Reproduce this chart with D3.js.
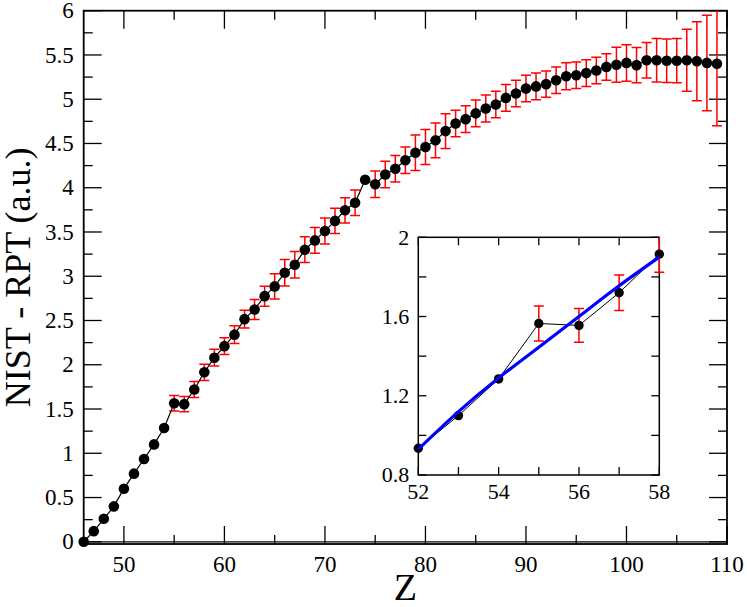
<!DOCTYPE html>
<html><head><meta charset="utf-8"><script src="https://cdn.jsdelivr.net/npm/d3@7"></script></head>
<body style="margin:0">
<div id="fig"></div>
<script>
// atomic number Z
const zValues = [46, 47, 48, 49, 50, 51, 52, 53, 54, 55, 56, 57, 58, 59, 60, 61, 62, 63, 64, 65,
  66, 67, 68, 69, 70, 71, 72, 73, 74, 75, 76, 77, 78, 79, 80, 81, 82, 83, 84, 85,
  86, 87, 88, 89, 90, 91, 92, 93, 94, 95, 96, 97, 98, 99, 100, 101, 102, 103, 104, 105,
  106, 107, 108, 109];

// NIST - RPT difference (a.u.)
const diffValues = [0, 0.12, 0.26, 0.40, 0.60, 0.77, 0.935, 1.10, 1.285, 1.565, 1.555, 1.72, 1.915, 2.08, 2.21, 2.34, 2.515, 2.625, 2.775, 2.885,
  3.04, 3.13, 3.30, 3.405, 3.51, 3.625, 3.745, 3.83, 4.09, 4.04, 4.15, 4.215, 4.31, 4.395, 4.46, 4.535, 4.64, 4.725, 4.775, 4.84,
  4.895, 4.94, 5.015, 5.065, 5.12, 5.145, 5.17, 5.215, 5.26, 5.27, 5.295, 5.325, 5.365, 5.39, 5.41, 5.385, 5.44, 5.44, 5.435, 5.435,
  5.44, 5.43, 5.41, 5.40];

// uncertainty (half height of the red bars)
const errValues = [0, 0, 0, 0, 0, 0, 0, 0, 0, 0.088, 0.085, 0.09, 0.092, 0.094, 0.095, 0.1, 0.1, 0.113, 0.113, 0.143,
  0.15, 0.15, 0.145, 0.146, 0.147, 0.143, 0.143, 0.145, 0, 0.15, 0.15, 0.15, 0.15, 0.2, 0.197, 0.197, 0.197, 0.15, 0.15, 0.15,
  0.152, 0.15, 0.15, 0.15, 0.15, 0.15, 0.148, 0.15, 0.152, 0.15, 0.15, 0.15, 0.15, 0.197, 0.206, 0.2, 0.2, 0.246, 0.246, 0.25,
  0.35, 0.446, 0.54, 0.70];

// quadratic fit shown in the inset
const fitZ = [52, 53, 54, 55, 56, 57, 58];
const fitValues = [0.93, 1.12, 1.29, 1.445, 1.60, 1.755, 1.90];

// tick values
const xTicksMain = [50, 60, 70, 80, 90, 100, 110];
const yTicksMain = [0, 0.5, 1, 1.5, 2, 2.5, 3, 3.5, 4, 4.5, 5, 5.5, 6];
const xTicksInset = [52, 54, 56, 58];
const yTicksInset = [0.8, 1.2, 1.6, 2];

const data = zValues.map((z, i) => ({ z: z, v: diffValues[i], e: errValues[i] }));
const fitData = fitZ.map((z, i) => ({ z: z, v: fitValues[i] }));

// serif face set inline on every label
function label(sel, size) {
  return sel
    .style("font-family", "'Liberation Serif', 'Times New Roman'")
    .style("font-size", size + "px")
    .style("fill", "#000");
}

function diffChart() {
  const width = 747, height = 607;

  const svg = d3.select("#fig")
    .append("svg")
    .attr("width", width)
    .attr("height", height);

  // main scales
  const x = d3.scaleLinear().domain([46, 110]).range([83.7, 727]);
  const y = d3.scaleLinear().domain([-0.025, 6]).range([544, 10.7]);

  // inset scales
  const xi = d3.scaleLinear().domain([52, 58]).range([418.3, 659.3]);
  const yi = d3.scaleLinear().domain([0.8, 2]).range([475, 237.3]);

  // draw one framed panel with inward ticks on all four sides
  function frame(g, sx, sy, opt) {
    const [x0, x1] = sx.range();
    const [y0, y1] = sy.range();

    g.append("rect")
      .attr("x", x0).attr("y", y1)
      .attr("width", x1 - x0).attr("height", y0 - y1)
      .attr("fill", opt.fill || "none")
      .attr("stroke", "#000")
      .attr("stroke-width", opt.frameWidth);

    const xt = (ticks, len) => {
      ticks.forEach(t => {
        g.append("line").attr("x1", sx(t)).attr("x2", sx(t))
          .attr("y1", y0).attr("y2", y0 - len)
          .attr("stroke", "#000").attr("stroke-width", 1.3);
        g.append("line").attr("x1", sx(t)).attr("x2", sx(t))
          .attr("y1", y1).attr("y2", y1 + len)
          .attr("stroke", "#000").attr("stroke-width", 1.3);
      });
    };
    const yt = (ticks, len) => {
      ticks.forEach(t => {
        g.append("line").attr("x1", x0).attr("x2", x0 + len)
          .attr("y1", sy(t)).attr("y2", sy(t))
          .attr("stroke", "#000").attr("stroke-width", 1.3);
        g.append("line").attr("x1", x1).attr("x2", x1 - len)
          .attr("y1", sy(t)).attr("y2", sy(t))
          .attr("stroke", "#000").attr("stroke-width", 1.3);
      });
    };
    xt(opt.xMajor, opt.majorLen);
    xt(opt.xMinor, opt.minorLen);
    yt(opt.yMajor, opt.majorLen);
    yt(opt.yMinor, opt.minorLen);

    opt.xLabels.forEach(t => {
      label(g.append("text"), opt.fontSize)
        .attr("x", sx(t))
        .attr("y", y0 + opt.xLabelDy)
        .attr("text-anchor", "middle")
        .text(String(t));
    });

    opt.yLabels.forEach(t => {
      label(g.append("text"), opt.fontSize)
        .attr("x", x0 - opt.yLabelDx)
        .attr("y", sy(t) + opt.fontSize * 0.33)
        .attr("text-anchor", "end")
        .text(String(t));
    });
  }

  // error bars cut at the panel top, connecting line, then markers
  function series(g, sx, sy, rows, r, lw) {
    const top = sy.domain()[1];
    const withErr = rows.filter(d => d.e > 0);

    g.selectAll(".bar")
      .data(withErr)
      .enter()
      .append("path")
      .attr("class", "bar")
      .attr("d", d => {
        const cx = sx(d.z);
        const hi = Math.min(d.v + d.e, top);
        const yt = sy(hi), yb = sy(d.v - d.e);
        const cap = hi < top ? "M" + (cx - 5) + "," + yt + "H" + (cx + 5) : "";
        return "M" + cx + "," + yt + "V" + yb + cap +
          "M" + (cx - 5) + "," + yb + "H" + (cx + 5);
      })
      .attr("fill", "none")
      .attr("stroke", "#ff0000")
      .attr("stroke-width", 1.5);

    g.append("path")
      .datum(rows)
      .attr("d", d3.line().x(d => sx(d.z)).y(d => sy(d.v)))
      .attr("fill", "none")
      .attr("stroke", "#000")
      .attr("stroke-width", lw);

    g.selectAll("circle")
      .data(rows)
      .enter()
      .append("circle")
      .attr("cx", d => sx(d.z))
      .attr("cy", d => sy(d.v))
      .attr("r", r)
      .attr("fill", "#000");
  }

  // main panel
  const main = svg.append("g").attr("id", "main");
  frame(main, x, y, {
    frameWidth: 1.8,
    xMajor: xTicksMain, xMinor: [55, 65, 75, 85, 95, 105],
    yMajor: yTicksMain, yMinor: d3.range(0.25, 6, 0.5),
    majorLen: 18, minorLen: 9,
    xLabels: xTicksMain, yLabels: yTicksMain,
    xLabelDy: 28, yLabelDx: 10, fontSize: 23
  });

  // zero line just above the frame bottom
  main.append("line")
    .attr("x1", x(46)).attr("x2", x(110))
    .attr("y1", y(0)).attr("y2", y(0))
    .attr("stroke", "#000").attr("stroke-width", 1.2);

  series(main, x, y, data, 5.3, 1.2);

  // axis titles
  label(svg.append("text"), 38)
    .attr("x", (x.range()[0] + x.range()[1]) / 2)
    .attr("y", 600)
    .attr("text-anchor", "middle")
    .text("Z");

  label(svg.append("text"), 36)
    .attr("transform", "translate(30," + ((y.range()[0] + y.range()[1]) / 2) + ") rotate(-90)")
    .attr("text-anchor", "middle")
    .text("NIST - RPT (a.u.)");

  // inset panel
  const inset = svg.append("g").attr("id", "inset");
  const insetRows = data.filter(d => d.z >= 52 && d.z <= 58);
  frame(inset, xi, yi, {
    fill: "#fff",
    frameWidth: 1.5,
    xMajor: d3.range(52, 59, 1), xMinor: [],
    yMajor: d3.range(0.8, 2.01, 0.2), yMinor: [],
    majorLen: 8, minorLen: 0,
    xLabels: xTicksInset, yLabels: yTicksInset,
    xLabelDy: 24, yLabelDx: 9, fontSize: 22
  });

  series(inset, xi, yi, insetRows, 4.7, 1);

  inset.append("path")
    .datum(fitData)
    .attr("d", d3.line().curve(d3.curveNatural).x(d => xi(d.z)).y(d => yi(d.v)))
    .attr("fill", "none")
    .attr("stroke", "#0000ff")
    .attr("stroke-width", 3.2);

  return svg;
}

diffChart();
</script></body></html>
